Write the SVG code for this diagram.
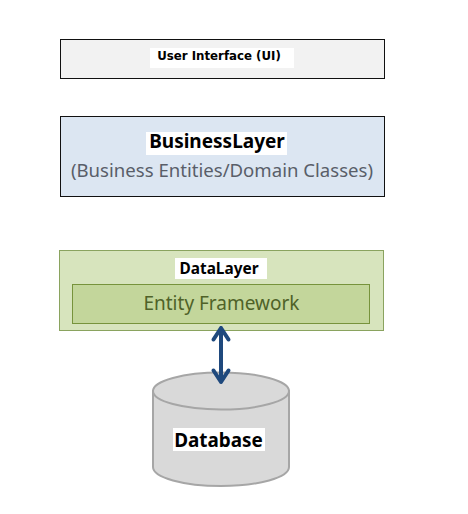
<svg xmlns="http://www.w3.org/2000/svg" width="468" height="514" viewBox="0 0 468 514">
<style>
.b{font-family:"Noto Sans","Open Sans","Liberation Sans",sans-serif;font-weight:700;fill:#000;text-anchor:middle}
.n{font-family:"Noto Sans","Open Sans","Liberation Sans",sans-serif;text-anchor:middle}
.w{fill:#fff}
.a{fill:none;stroke:#1f497d;stroke-width:4;stroke-linecap:round;stroke-linejoin:round}
</style>
<rect width="468" height="514" fill="#fff"/>
<g id="ui">
<rect x="60.5" y="39.5" width="324" height="39" fill="#f2f2f2" stroke="#111"/>
<rect class="w" x="150" y="48" width="144" height="20"/>
<text class="b" x="219" y="60" font-size="11.800" style="font-family:'DejaVu Sans',sans-serif">User Interface (UI)</text>
</g>
<g id="business">
<rect x="60.5" y="116.500" width="324" height="80" fill="#dce6f2" stroke="#111"/>
<rect class="w" x="146" y="132" width="141" height="23"/>
<text class="b" x="217" y="148" font-size="19">BusinessLayer</text>
<text class="n" x="222" y="177" font-size="18.600" fill="#595e69">(Business Entities/Domain Classes)</text>
</g>
<g id="data">
<rect x="59.500" y="250.500" width="324" height="80" fill="#d7e4bd" stroke="#8aa35f"/>
<rect class="w" x="175" y="258" width="92" height="21"/>
<text class="b" x="219" y="274" font-size="15.400">DataLayer</text>
</g>
<g id="entity-framework">
<rect x="72.500" y="284.500" width="297" height="39" fill="#c3d69b" stroke="#77933c"/>
<text class="n" x="221.500" y="310" font-size="19" fill="#4f6228">Entity Framework</text>
</g>
<g id="database">
<path d="M153 391V467C153 477.500 183.500 486 221 486S289 477.500 289 467V391Z" fill="#d9d9d9" stroke="#a6a6a6" stroke-width="2"/>
<ellipse cx="221" cy="391" rx="68" ry="18.500" fill="#d9d9d9" stroke="#a6a6a6" stroke-width="2"/>
<rect class="w" x="173" y="428" width="92" height="23"/>
<text class="b" x="218.500" y="446.500" font-size="18.900">Database</text>
</g>
<g id="connectors">
<path class="a" d="M221 328V382M213.500 339.500L221 328L228.500 339.500M213.500 370.500L221 382L228.500 370.500"/>
</g>
</svg>
